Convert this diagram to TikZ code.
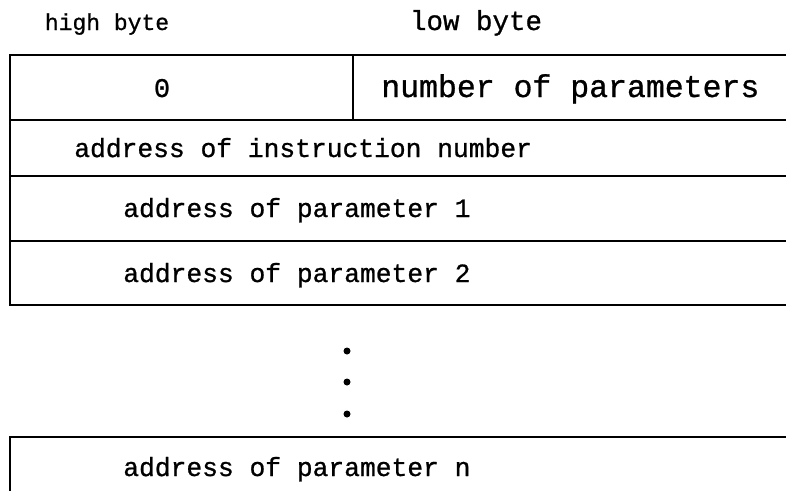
\documentclass[tikz,border=0pt]{standalone}
\usepackage{fontspec}
\newfontfamily\typewr[FakeBold=0.9]{Liberation Mono}
\begin{document}
\begin{tikzpicture}[x=1pt,y=-1pt,line width=2.6pt,
  txt/.style={font=\typewr\fontsize{26.3}{30}\selectfont,inner sep=0pt,anchor=base west},
  toptxt/.style={font=\typewr\fontsize{27}{30}\selectfont,inner sep=0pt,anchor=base},
  dotmark/.style={fill=black,draw=none}]
\useasboundingbox (0,0) rectangle (786,491);
% frame
\draw (786,55) -- (10,55) -- (10,305) -- (786,305);
\draw (10,120) -- (786,120);
\draw (10,176) -- (786,176);
\draw (10,241) -- (786,241);
\draw (353,55) -- (353,120);
\draw (786,437) -- (10,437) -- (10,491);
% headers
\node[toptxt,font=\typewr\fontsize{23}{27}\selectfont] (hb) at (107,30) {high byte};
\node[toptxt,font=\typewr\fontsize{27.5}{30}\selectfont] (lb) at (476,30) {low byte};
% rows
\node[toptxt] (zero) at (162,97) {0};
\node[txt,font=\typewr\fontsize{31.5}{34}\selectfont] (np) at (380,97) {number of parameters};
\node[txt] (ain) at (73,157) {address of instruction number};
\node[txt] (ap1) at (122,217) {address of parameter 1};
\node[txt] (ap2) at (122,282) {address of parameter 2};
\node[txt] (apn) at (122,476) {address of parameter n};
% dots
\fill[dotmark] (347,351) circle (3.5);
\fill[dotmark] (347,382) circle (3.5);
\fill[dotmark] (347,414) circle (3.5);
\end{tikzpicture}
\end{document}
